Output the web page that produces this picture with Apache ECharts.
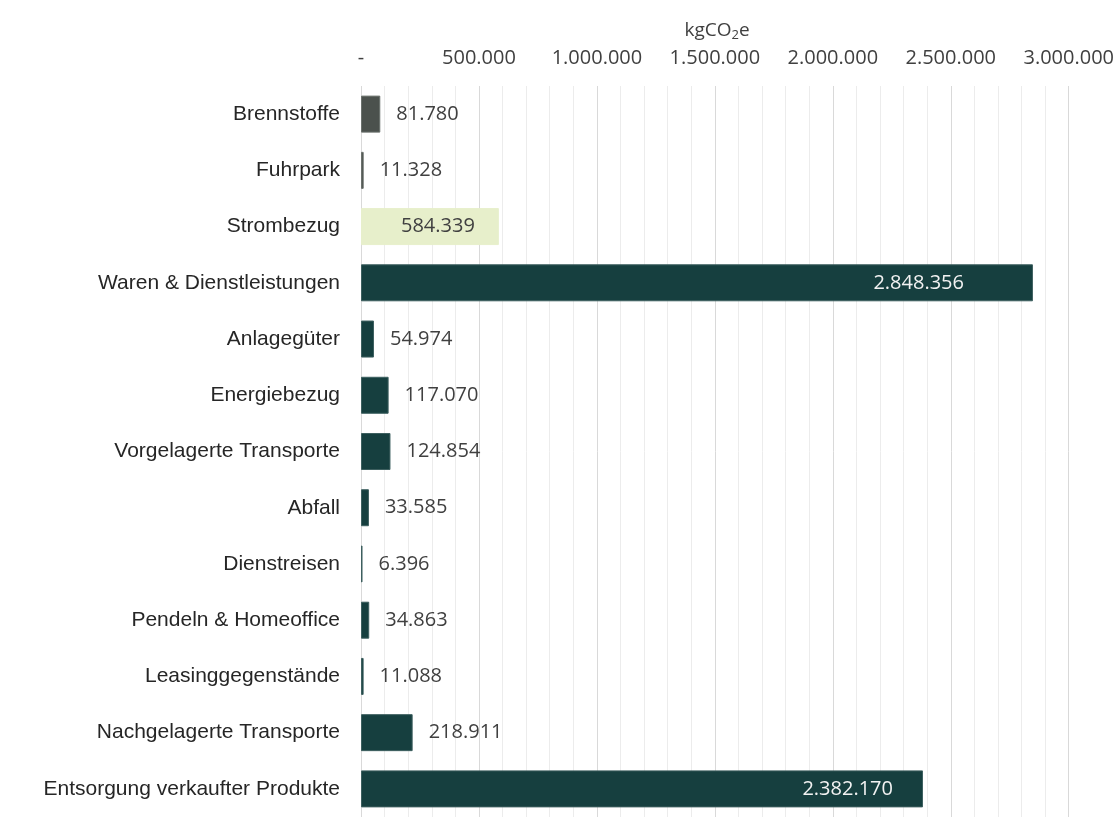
<!DOCTYPE html>
<html>
<head>
<meta charset="utf-8">
<script src="https://cdn.jsdelivr.net/npm/echarts@6/dist/echarts.min.js"></script>
<style>
html,body{margin:0;padding:0;background:#fff;}
#chart{width:1117px;height:817px;}
</style>
</head>
<body>
<div id="chart"></div>
<script>
// ---- data ----
var categories = [
  'Brennstoffe', 'Fuhrpark', 'Strombezug', 'Waren & Dienstleistungen',
  'Anlagegüter', 'Energiebezug', 'Vorgelagerte Transporte', 'Abfall',
  'Dienstreisen', 'Pendeln & Homeoffice', 'Leasinggegenstände',
  'Nachgelagerte Transporte', 'Entsorgung verkaufter Produkte'
];
var values = [81780, 11328, 584339, 2848356, 54974, 117070, 124854, 33585, 6396, 34863, 11088, 218911, 2382170];
var scopes = [1, 1, 2, 3, 3, 3, 3, 3, 3, 3, 3, 3, 3];
var axisMin = 0, axisMax = 3000000, axisStep = 500000;

// ---- styling ----
var scopeColors = {1: '#4b514d', 2: '#e7efcb', 3: '#163f3f'};
var scopeBorders = {1: '#6b716d', 2: '#e7efcb', 3: '#3d5f5f'};
var insideLabels = {2: {distance: 24, color: '#404040'}, 3: {distance: 69, color: '#f2f2f2'}, 12: {distance: 30, color: '#f2f2f2'}};

function fmt(v) {
  if (v === 0) return '-';
  return String(Math.round(v)).replace(/\B(?=(\d{3})+(?!\d))/g, '.');
}

var seriesData = values.map(function (v, i) {
  var item = {
    value: v,
    itemStyle: {color: scopeColors[scopes[i]], borderColor: scopeBorders[scopes[i]], borderWidth: 1}
  };
  if (insideLabels[i]) {
    item.label = {position: 'insideRight', distance: insideLabels[i].distance, color: insideLabels[i].color};
  }
  return item;
});

var chart = echarts.init(document.getElementById('chart'), null, {renderer: 'canvas'});
chart.setOption({
  animation: false,
  backgroundColor: '#ffffff',
  title: {
    text: '{a|kgCO}{s|2}{a|e}',
    left: 712, top: 14, textAlign: 'center',
    textStyle: {
      rich: {
        a: {fontFamily: 'Open Sans', fontSize: 19, color: '#404040', fontWeight: 'normal'},
        s: {fontFamily: 'Open Sans', fontSize: 13, color: '#404040', fontWeight: 'normal', verticalAlign: 'bottom', padding: [10, 0, 0, 0]}
      }
    }
  },
  grid: {left: 361, right: 47, top: 86, bottom: -6, containLabel: false},
  xAxis: {
    type: 'value', position: 'top',
    min: axisMin, max: axisMax, interval: axisStep,
    axisLine: {show: false}, axisTick: {show: false},
    axisLabel: {formatter: fmt, fontFamily: 'Open Sans', fontSize: 20, color: '#404040', margin: 18},
    splitLine: {show: true, lineStyle: {color: '#d9d9d9', width: 1}},
    minorTick: {show: false, splitNumber: 5},
    minorSplitLine: {show: true, lineStyle: {color: '#ececec', width: 1}}
  },
  yAxis: {
    type: 'category', data: categories, inverse: true,
    axisLine: {show: false}, axisTick: {show: false},
    axisLabel: {fontFamily: 'Liberation Sans', fontSize: 21, color: '#262626', margin: 21}
  },
  series: [{
    type: 'bar',
    data: seriesData,
    barWidth: 37,
    label: {
      show: true, position: 'right', distance: 16,
      formatter: function (p) { return fmt(p.value); },
      fontFamily: 'Open Sans', fontSize: 20, color: '#404040'
    }
  }]
});
</script>
</body>
</html>
